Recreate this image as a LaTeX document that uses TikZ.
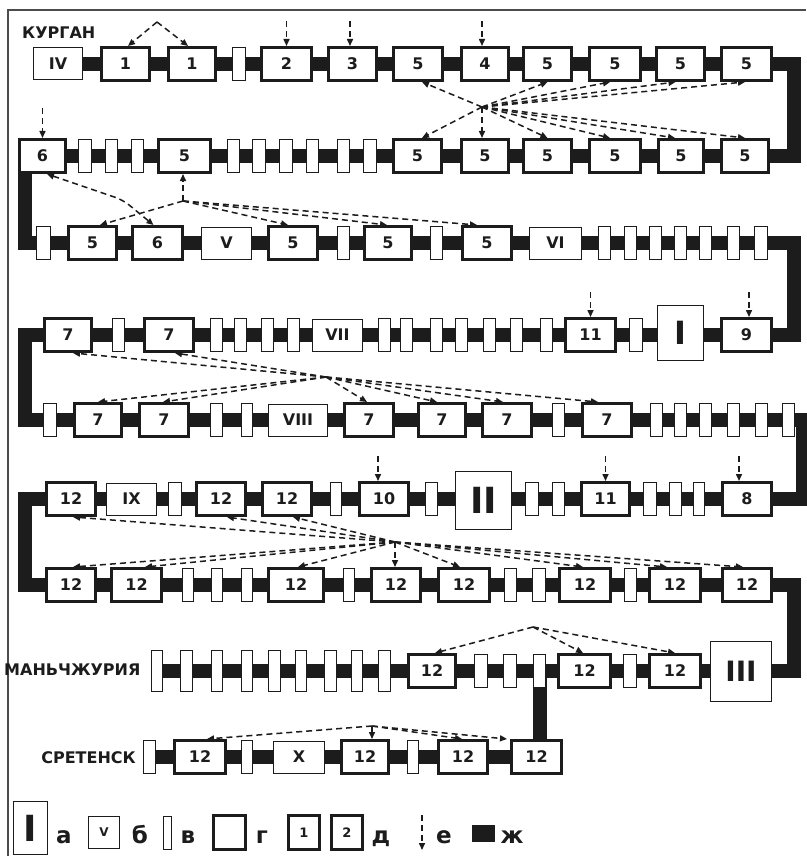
\documentclass[tikz,border=0pt]{standalone}
\usepackage{fontspec}
\usetikzlibrary{arrows.meta}
\newfontfamily\lab{DejaVu Sans}
\definecolor{ink}{RGB}{28,28,28}
\pgfdeclarelayer{back}
\pgfdeclarelayer{bars}
\pgfsetlayers{back,bars,main}
\tikzset{
  bigbox/.style={draw=ink, fill=white, line width=3pt, minimum height=33, inner sep=0pt,
    font=\lab\bfseries\fontsize{16}{16}\selectfont, text=ink},
  thinbox/.style={draw=ink, fill=white, line width=1pt, minimum height=32, inner sep=0pt,
    font=\lab\bfseries\fontsize{16}{16}\selectfont, text=ink},
  smbox/.style={draw=ink, fill=white, line width=1pt, minimum height=33, inner sep=0pt},
  bar/.style={draw=ink, line width=14pt, line join=miter, line cap=butt},
  darr/.style={draw=ink, line width=1.5pt, dash pattern=on 6pt off 4pt, -{Triangle[length=7pt,width=6pt]}},
  dboth/.style={draw=ink, line width=1.5pt, dash pattern=on 6pt off 4pt, rounded corners=8pt,
    {Triangle[length=7pt,width=6pt]}-{Triangle[length=7pt,width=6pt]}},
  title/.style={font=\lab\bfseries\fontsize{16}{16}\selectfont, text=ink, inner sep=0pt},
  lgl/.style={font=\lab\bfseries\fontsize{23}{23}\selectfont, text=ink, inner sep=0pt, anchor=base},
}
\newcommand\mkbig[4]{\node[bigbox,minimum width={#3-#2-3}] (#1) at ({(#2+#3)/2},\rowy) {#4};}
\newcommand\mkthin[4]{\node[thinbox,minimum width={#3-#2-1}] (#1) at ({(#2+#3)/2},\rowy) {#4};}
\newcommand\mksm[3]{\node[smbox,minimum width={#3-#2-1}] (#1) at ({(#2+#3)/2},\rowy) {};}
\newcommand\arrdown[2]{\draw[darr] ([xshift=#2,yshift=25]#1.north) -- ([xshift=#2]#1.north);}
\begin{document}
\begin{tikzpicture}[x=1pt,y=-1pt]
\useasboundingbox (0,0) rectangle (806,856);
\begin{pgfonlayer}{back}
\fill[white] (0,0) rectangle (806,856);
\draw[line width=1.3pt, gray!60!black] (8,856) -- (8,10) -- (806,10);
\end{pgfonlayer}

% titles
\node[title, anchor=west] (kurgan) at (22,33) {КУРГАН};
\node[title, anchor=west] (manch) at (4,670) {МАНЬЧЖУРИЯ};
\node[title, anchor=east] (sret) at (136,758) {СРЕТЕНСК};

% row 1
\def\rowy{64}
\mkthin{r1a}{33}{83}{IV}
\mkbig{r1b}{100}{151}{1}
\mkbig{r1c}{167}{217}{1}
\mksm{r1d}{232}{246}
\mkbig{r1e}{260}{313}{2}
\mkbig{r1f}{327}{378}{3}
\mkbig{r1g}{392}{444}{5}
\mkbig{r1h}{460}{510}{4}
\mkbig{r1i}{522}{573}{5}
\mkbig{r1j}{588}{642}{5}
\mkbig{r1k}{655}{706}{5}
\mkbig{r1l}{720}{773}{5}

% row 2
\def\rowy{156}
\mkbig{r2a}{18}{67}{6}
\mksm{r2b}{78}{92}\mksm{r2c}{105}{118}\mksm{r2d}{131}{144}
\mkbig{r2e}{157}{212}{5}
\mksm{r2f}{227}{240}\mksm{r2g}{252}{266}\mksm{r2h}{279}{293}\mksm{r2i}{306}{319}\mksm{r2j}{337}{350}\mksm{r2k}{363}{377}
\mkbig{r2l}{392}{443}{5}
\mkbig{r2m}{460}{510}{5}
\mkbig{r2n}{522}{573}{5}
\mkbig{r2o}{588}{642}{5}
\mkbig{r2p}{657}{705}{5}
\mkbig{r2q}{720}{770}{5}

% row 3
\def\rowy{243}
\mksm{r3a}{36}{51}
\mkbig{r3b}{67}{118}{5}
\mkbig{r3c}{131}{184}{6}
\mkthin{r3d}{201}{252}{V}
\mkbig{r3e}{267}{319}{5}
\mksm{r3f}{337}{350}
\mkbig{r3g}{363}{413}{5}
\mksm{r3h}{430}{443}
\mkbig{r3i}{461}{513}{5}
\mkthin{r3j}{529}{582}{VI}
\mksm{r3k}{598}{611}\mksm{r3l}{624}{637}\mksm{r3m}{649}{662}\mksm{r3n}{674}{687}\mksm{r3o}{699}{712}\mksm{r3p}{727}{740}\mksm{r3q}{754}{768}

% row 4
\def\rowy{335}
\mkbig{r4a}{43}{93}{7}
\mksm{r4b}{112}{125}
\mkbig{r4c}{143}{195}{7}
\mksm{r4d}{210}{223}\mksm{r4e}{234}{247}\mksm{r4f}{261}{274}\mksm{r4g}{287}{300}
\mkthin{r4h}{312}{363}{VII}
\mksm{r4i}{378}{391}\mksm{r4j}{400}{413}\mksm{r4k}{430}{443}\mksm{r4l}{455}{468}\mksm{r4m}{483}{496}\mksm{r4n}{510}{523}\mksm{r4o}{540}{553}
\mkbig{r4p}{564}{617}{11}
\mksm{r4q}{629}{643}
\node[thinbox, minimum width=46, minimum height=55, font=\lab\bfseries\fontsize{32}{32}\selectfont] (r4r) at (680.5,333) {I};
\mkbig{r4s}{720}{773}{9}

% row 5
\def\rowy{420}
\mksm{r5a}{43}{57}
\mkbig{r5b}{73}{123}{7}
\mkbig{r5c}{138}{190}{7}
\mksm{r5d}{210}{223}\mksm{r5e}{241}{253}
\mkthin{r5f}{268}{328}{VIII}
\mkbig{r5g}{343}{395}{7}
\mkbig{r5h}{417}{467}{7}
\mkbig{r5i}{481}{533}{7}
\mksm{r5j}{552}{565}
\mkbig{r5k}{581}{633}{7}
\mksm{r5l}{650}{663}\mksm{r5m}{674}{687}\mksm{r5n}{699}{712}\mksm{r5o}{727}{740}\mksm{r5p}{755}{768}\mksm{r5q}{782}{795}

% row 6
\def\rowy{499}
\mkbig{r6a}{45}{97}{12}
\mkthin{r6b}{106}{157}{IX}
\mksm{r6c}{168}{182}
\mkbig{r6d}{195}{247}{12}
\mkbig{r6e}{261}{313}{12}
\mksm{r6f}{330}{342}
\mkbig{r6g}{358}{410}{10}
\mksm{r6h}{425}{438}
\node[thinbox, minimum width=56, minimum height=58, font=\lab\bfseries\fontsize{36}{36}\selectfont] (r6i) at (483.5,500.5) {II};
\mksm{r6j}{525}{539}\mksm{r6k}{552}{565}
\mkbig{r6l}{580}{631}{11}
\mksm{r6m}{643}{657}\mksm{r6n}{669}{682}\mksm{r6o}{693}{705}
\mkbig{r6p}{721}{773}{8}

% row 7
\def\rowy{585}
\mkbig{r7a}{45}{97}{12}
\mkbig{r7b}{110}{163}{12}
\mksm{r7c}{182}{194}\mksm{r7d}{211}{223}\mksm{r7e}{241}{253}
\mkbig{r7f}{267}{325}{12}
\mksm{r7g}{343}{355}
\mkbig{r7h}{370}{422}{12}
\mkbig{r7i}{437}{491}{12}
\mksm{r7j}{504}{517}\mksm{r7k}{532}{546}
\mkbig{r7l}{558}{612}{12}
\mksm{r7m}{624}{637}
\mkbig{r7n}{648}{702}{12}
\mkbig{r7o}{721}{773}{12}

% row 8
\def\rowy{671}
\begin{scope}[smbox/.append style={minimum height=41}]
\mksm{r8a}{151}{163}\mksm{r8b}{180}{193}\mksm{r8c}{211}{223}\mksm{r8d}{241}{253}\mksm{r8e}{268}{281}\mksm{r8f}{295}{307}\mksm{r8g}{324}{337}\mksm{r8h}{351}{363}\mksm{r8i}{378}{391}
\end{scope}
\mkbig{r8j}{407}{457}{12}
\mksm{r8k}{474}{488}\mksm{r8l}{503}{517}\mksm{r8m}{533}{546}
\mkbig{r8n}{557}{612}{12}
\mksm{r8o}{623}{637}
\mkbig{r8p}{648}{702}{12}
\node[thinbox, minimum width=61, minimum height=60, font=\lab\bfseries\fontsize{28}{28}\selectfont] (r8q) at (741,671.5) {III};

% row 9
\def\rowy{757}
\mksm{r9a}{143}{156}
\mkbig{r9b}{173}{227}{12}
\mksm{r9c}{241}{253}
\mkthin{r9d}{273}{325}{X}
\mkbig{r9e}{340}{390}{12}
\mksm{r9f}{407}{419}
\mkbig{r9g}{437}{489}{12}
\mkbig{r9h}{510}{563}{12}

% track bars
\coordinate (R) at (793.5,0);
\coordinate (L) at (25,0);
\coordinate (R2) at (803,0);
\begin{pgfonlayer}{bars}
\draw[bar] (r1a.center) -| (R |- r2a.center) -| (L |- r3a.center) -| (R |- r4a.center)
  -| (L |- r5a.center) -| (R2 |- r6a.center) -| (L |- r7a.center) -| (R |- r8a.center) -- (r8a.center);
\draw[bar] (r8m.center) -- (r8m.center |- r9h.center);
\draw[bar] (r9a.center) -- (r9h.center);
\end{pgfonlayer}

% single arrows
\arrdown{r1e}{0}
\arrdown{r1f}{-2.5}
\arrdown{r1h}{-3}
\draw[darr] ([yshift=30]r2a.north) -- (r2a.north);
\arrdown{r4p}{0}
\arrdown{r4s}{2.5}
\arrdown{r6g}{-6}
\arrdown{r6l}{0}
\arrdown{r6p}{-8}

% burst centres
\coordinate (b0) at (157,22);
\coordinate (b1) at (482,107);
\coordinate (b2) at (183,201);
\coordinate (b3) at (326,377);
\coordinate (b4) at (395,542);
\coordinate (b5) at (533,627);
\coordinate (b6) at (372,726);
\coordinate (k1) at (123,200);

\draw[darr] (b0) -- ([xshift=2.5]r1b.north);
\draw[darr] (b0) -- ([xshift=-4]r1c.north);

\foreach \n/\d in {r1g/4, r1i/0, r1j/-5, r1k/-5, r1l/-1.5}
  \draw[darr] (b1) -- ([xshift=\d]\n.south);
\foreach \n/\d in {r2l/4.5, r2m/-3, r2n/0, r2o/-5, r2p/-6, r2q/0}
  \draw[darr] (b1) -- ([xshift=\d]\n.north);

\draw[darr] (b2) -- ([xshift=-1.5]r2e.south);
\foreach \n/\d in {r3b/7.5, r3e/-5, r3g/-1, r3i/-10}
  \draw[darr] (b2) -- ([xshift=\d]\n.north);
\draw[dboth] ([xshift=4.5]r2a.south) -- (k1) -- ([xshift=-4]r3c.north);

\foreach \n/\d in {r4a/5, r4c/6}
  \draw[darr] (b3) -- ([xshift=\d]\n.south);
\foreach \n/\d in {r5b/0, r5c/-1, r5g/-2, r5h/-5, r5i/-4, r5k/-9}
  \draw[darr] (b3) -- ([xshift=\d]\n.north);

\foreach \n/\d in {r6a/2, r6d/6, r6e/6}
  \draw[darr] (b4) -- ([xshift=\d]\n.south);
\foreach \n/\d in {r7a/2, r7b/8.5, r7f/2, r7h/-1, r7i/-4, r7l/-2, r7n/-8, r7o/-4}
  \draw[darr] (b4) -- ([xshift=\d]\n.north);

\foreach \n/\d in {r8j/3, r8n/-1.5, r8p/0}
  \draw[darr] (b5) -- ([xshift=\d]\n.north);

\foreach \n/\d in {r9b/7, r9e/7, r9g/-1, r9h/-29.5}
  \draw[darr] (b6) -- ([xshift=\d]\n.north);

% legend
\node[thinbox, minimum width=34, minimum height=53, font=\lab\bfseries\fontsize{36}{36}\selectfont] (lgI) at (30.5,828) {I};
\node[lgl] (lga) at (64,843) {а};
\node[thinbox, minimum width=31, minimum height=32, font=\lab\bfseries\fontsize{12}{12}\selectfont] (lgV) at (104,832.5) {V};
\node[lgl] (lgb) at (140,843) {б};
\node[smbox, minimum width=8, minimum height=33] (lgs) at (167.5,833) {};
\node[lgl] (lgc) at (188,843) {в};
\node[bigbox, minimum width=32, minimum height=34] (lgg) at (229.5,832.5) {};
\node[lgl] (lgd) at (262,843) {г};
\node[bigbox, minimum width=31, minimum height=34, font=\lab\bfseries\fontsize{13}{13}\selectfont] (lg1) at (304,832.5) {1};
\node[bigbox, minimum width=31, minimum height=34, font=\lab\bfseries\fontsize{13}{13}\selectfont] (lg2) at (347,832.5) {2};
\node[lgl] (lge) at (381,843) {д};
\coordinate (lgt) at (422,815);
\coordinate (lgh) at (422,850);
\draw[darr] (lgt) -- (lgh);
\node[lgl] (lgf) at (444,843) {е};
\node[fill=ink, minimum width=23, minimum height=17, inner sep=0pt] (lgk) at (483.5,833.5) {};
\node[lgl] (lgj) at (512,843) {ж};
\end{tikzpicture}
\end{document}
